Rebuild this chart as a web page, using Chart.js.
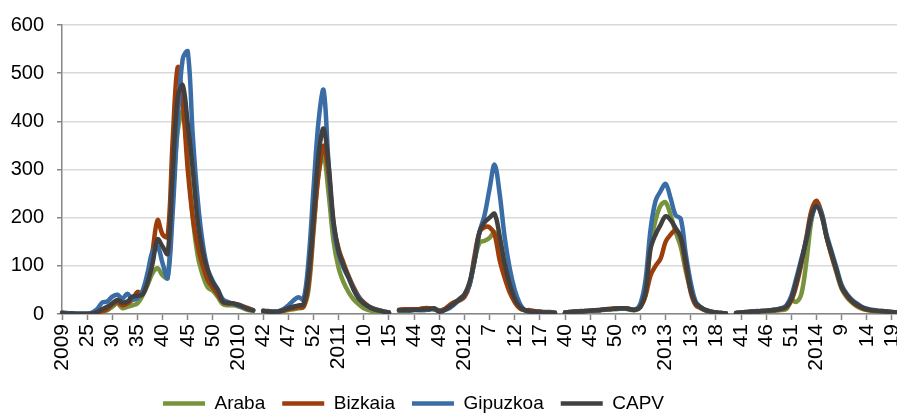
<!DOCTYPE html>
<html>
<head>
<meta charset="utf-8">
<title>Gripe - CAPV</title>
<script src="https://cdn.jsdelivr.net/npm/chart.js@4.4.1/dist/chart.umd.min.js"></script>
<style>
    html, body { margin: 0; padding: 0; background: #fff; overflow: hidden; }
    #wrap { width: 897px; height: 423px; }
</style>
</head>
<body>
<div id="wrap"><canvas id="gripeChart"></canvas></div>
<script>
    // Etiquetas visibles del eje X (una cada 5 semanas)
    const tickLabels = ['2009', '25', '30', '35', '40', '45', '50', '2010', '42', '47', '52', '2011',
        '10', '15', '44', '49', '2012', '7', '12', '17', '40', '45', '50', '3', '2013', '13', '18',
        '41', '46', '51', '2014', '9', '14', '19'];

    // Tasas semanales por temporada; null = hueco entre temporadas
    const araba = [
        2, 1, 1, 0, 0, 0, 0, 1, 4, 8, 15, 22, 12, 15, 18, 22, 38, 60, 85, 95, 80, 75, 240, 380, 420, 320, 200, 120, 80, 55, 48, 35, 20, 18, 18, 16, 12, 8, 6,
        null,
        5, 4, 4, 4, 6, 8, 10, 12, 14, 50, 170, 290, 330, 250, 150, 95, 65, 45, 30, 20, 12, 8, 5, 3, 2, 1,
        null,
        6, 7, 8, 9, 10, 12, 11, 10, 8, 9, 15, 22, 32, 40, 60, 110, 148, 152, 158, 170, 140, 95, 55, 25, 12, 8, 5, 4, 4, 3, 2, 2,
        null,
        2, 3, 4, 5, 5, 6, 7, 8, 9, 10, 10, 11, 11, 9, 8, 15, 40, 145, 195, 225, 232, 205, 170, 140, 90, 50, 22, 12, 8, 5, 3, 2, 1,
        null,
        1, 2, 3, 4, 4, 5, 6, 6, 7, 8, 10, 28, 25, 42, 110, 195, 228, 205, 160, 120, 85, 52, 35, 24, 16, 11, 8, 6, 5, 4, 3, 3, 2
    ];
    const bizkaia = [
        2, 1, 1, 0, 0, 0, 0, 2, 6, 10, 20, 25, 18, 22, 30, 46, 42, 70, 130, 195, 165, 160, 360, 512, 440, 300, 200, 140, 100, 70, 55, 40, 25, 22, 22, 20, 16, 12, 8,
        null,
        7, 6, 5, 5, 7, 10, 12, 14, 15, 60, 180, 290, 350, 290, 185, 135, 105, 78, 55, 36, 24, 16, 11, 8, 5, 3,
        null,
        9, 10, 10, 10, 10, 12, 12, 10, 6, 10, 18, 25, 28, 35, 60, 120, 170, 180, 180, 165, 112, 75, 45, 25, 12, 8, 8, 6, 5, 4, 4, 3,
        null,
        3, 4, 5, 6, 6, 7, 8, 9, 10, 11, 12, 12, 12, 10, 9, 15, 38, 80, 100, 115, 150, 165, 174, 158, 100, 45, 18, 12, 7, 5, 3, 2, 1,
        null,
        2, 3, 3, 4, 5, 6, 6, 7, 8, 10, 14, 28, 60, 105, 160, 215, 235, 210, 160, 122, 88, 55, 38, 26, 18, 12, 9, 7, 6, 5, 4, 3, 3
    ];
    const gipuzkoa = [
        3, 2, 1, 1, 1, 1, 3, 10, 24, 26, 36, 40, 32, 42, 30, 33, 48, 85, 130, 140, 105, 75, 210, 400, 530, 545, 370, 235, 145, 92, 68, 50, 30, 25, 21, 18, 14, 10, 8,
        null,
        6, 5, 5, 6, 10, 18, 28, 35, 30, 110, 260, 400, 465, 310, 180, 125, 95, 75, 52, 35, 22, 15, 10, 8, 5, 3,
        null,
        8, 8, 7, 8, 8, 8, 9, 10, 6, 8, 12, 20, 30, 40, 60, 110, 170, 205, 260, 310, 250, 160, 95, 50, 22, 8, 5, 4, 4, 3, 3, 2,
        null,
        3, 4, 5, 5, 6, 7, 8, 8, 10, 10, 11, 12, 12, 10, 9, 22, 70, 175, 235, 255, 270, 240, 205, 198, 125, 65, 25, 14, 8, 5, 3, 2, 1,
        null,
        2, 3, 4, 5, 6, 6, 7, 8, 10, 12, 18, 38, 75, 115, 155, 200, 225, 210, 165, 130, 95, 60, 42, 30, 22, 15, 11, 9, 7, 6, 5, 4, 3
    ];
    const capv = [
        2, 1, 1, 0, 0, 0, 1, 4, 10, 15, 22, 29, 24, 26, 36, 38, 40, 65, 105, 155, 140, 125, 290, 450, 475, 395, 300, 190, 128, 90, 65, 50, 25, 23, 22, 19, 15, 10, 8,
        null,
        6, 5, 4, 5, 8, 12, 15, 18, 20, 80, 200, 330, 385, 310, 190, 130, 100, 75, 50, 32, 22, 15, 10, 7, 5, 3,
        null,
        8, 8, 8, 9, 9, 10, 10, 12, 5, 8, 15, 22, 30, 40, 65, 110, 170, 190, 200, 208, 162, 105, 62, 32, 15, 8, 5, 5, 4, 3, 3, 2,
        null,
        3, 4, 5, 5, 6, 7, 8, 8, 10, 10, 11, 12, 12, 10, 9, 15, 45, 135, 165, 185, 203, 195, 178, 160, 110, 50, 22, 14, 8, 5, 3, 2, 1,
        null,
        2, 3, 4, 5, 5, 6, 7, 8, 9, 11, 15, 32, 68, 110, 155, 205, 225, 205, 160, 125, 90, 56, 40, 28, 20, 14, 10, 8, 7, 6, 5, 4, 3
    ];

    const colors = {
        araba: '#77933C',
        bizkaia: '#9C3D0A',
        gipuzkoa: '#3A6CA6',
        capv: '#404040',
        axis: '#868686',
        grid: '#D9D9D9'
    };

    const fontFamily = "'Liberation Sans', Arial, sans-serif";

    // Una categoria por semana; solo cada 5 lleva texto
    const weeks = Array.from({ length: capv.length }, function(_, i) {
        return i % 5 === 0 ? tickLabels[i / 5] : '';
    });

    // Desplaza la leyenda a la izquierda como en el original
    const shiftLegend = {
        id: 'shiftLegend',
        afterLayout: function(chart) {
            chart.legend.left -= 35;
            chart.legend.right -= 35;
        }
    };

    function makeDataset(label, data, color, order) {
        return {
            label: label,
            data: data,
            borderColor: color,
            backgroundColor: color,
            borderWidth: 4.5,
            borderCapStyle: 'round',
            borderJoinStyle: 'round',
            pointRadius: 0,
            tension: 0.35,
            fill: false,
            order: order
        };
    }

    const ctx = document.getElementById('gripeChart').getContext('2d');

    new Chart(ctx, {
        type: 'line',
        data: {
            labels: weeks,
            datasets: [
                makeDataset('Araba', araba, colors.araba, 4),
                makeDataset('Bizkaia', bizkaia, colors.bizkaia, 3),
                makeDataset('Gipuzkoa', gipuzkoa, colors.gipuzkoa, 2),
                makeDataset('CAPV', capv, colors.capv, 1)
            ]
        },
        options: {
            responsive: true,
            maintainAspectRatio: false,
            animation: false,
            layout: {
                padding: { top: 24, right: 0, bottom: 0, left: 0 }
            },
            scales: {
                x: {
                    offset: false,
                    grid: {
                        drawOnChartArea: false,
                        tickLength: 6,
                        tickWidth: 1.5,
                        tickColor: function(c) {
                            return c.index % 5 === 0 ? colors.axis : 'rgba(0,0,0,0)';
                        }
                    },
                    border: { color: colors.axis, width: 1.5 },
                    ticks: {
                        autoSkip: false,
                        minRotation: 90,
                        maxRotation: 90,
                        padding: 4,
                        color: '#000',
                        font: { family: fontFamily, size: 21 }
                    },
                    afterFit: function(scale) {
                        scale.height = 63;
                        scale.paddingLeft = 0;
                        scale.paddingRight = 0;
                    }
                },
                y: {
                    min: 0,
                    max: 600,
                    grid: {
                        color: colors.grid,
                        lineWidth: 1.5,
                        tickLength: 5,
                        tickColor: colors.axis
                    },
                    border: { color: colors.axis, width: 1.5 },
                    ticks: {
                        stepSize: 100,
                        padding: 13,
                        color: '#000',
                        font: { family: fontFamily, size: 20 }
                    },
                    afterFit: function(scale) {
                        scale.width = 62;
                    }
                }
            },
            plugins: {
                legend: {
                    position: 'bottom',
                    labels: {
                        usePointStyle: true,
                        pointStyle: 'line',
                        pointStyleWidth: 42,
                        padding: 17,
                        color: '#000',
                        font: { family: fontFamily, size: 19 },
                        sort: function(a, b) {
                            return a.datasetIndex - b.datasetIndex;
                        }
                    }
                },
                tooltip: { enabled: false }
            }
        },
        plugins: [shiftLegend]
    });
</script>
</body>
</html>
